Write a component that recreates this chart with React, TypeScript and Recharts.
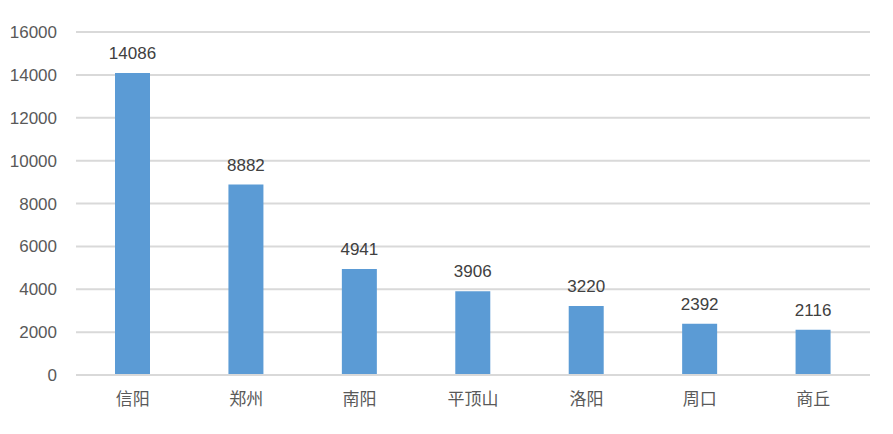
import React from "react";
import { BarChart, Bar, XAxis, YAxis, CartesianGrid, LabelList } from "recharts";

const categories = ["信阳", "郑州", "南阳", "平顶山", "洛阳", "周口", "商丘"];
const values = [14086, 8882, 4941, 3906, 3220, 2392, 2116];
const yTicks = [0, 2000, 4000, 6000, 8000, 10000, 12000, 14000, 16000];

const data = categories.map((name, i) => ({ name, value: values[i] }));

const font = "'Liberation Sans', 'Noto Sans CJK SC', sans-serif";

export default function App() {
  return (
    <div style={{ position: "absolute", left: 0, top: 0, width: 893, height: 434, background: "#fff" }}>
      <BarChart
        width={893}
        height={434}
        data={data}
        margin={{ top: 32, right: 23, bottom: 29, left: 10 }}
      >
        <CartesianGrid vertical={false} stroke="#d9d9d9" strokeWidth={2} />
        <XAxis
          dataKey="name"
          axisLine={{ stroke: "#d9d9d9", strokeWidth: 2 }}
          tickLine={false}
          tickSize={0}
          tickMargin={18}
          height={30}
          tick={{ fill: "#595959", fontSize: 17, fontFamily: "'Noto Sans CJK SC', sans-serif" }}
        />
        <YAxis
          width={66}
          domain={[0, 16000]}
          ticks={yTicks}
          axisLine={false}
          tickLine={false}
          tickSize={0}
          tickMargin={19}
          tick={{ fill: "#595959", fontSize: 17, fontFamily: font }}
        />
        <Bar dataKey="value" fill="#5b9bd5" barSize={35} isAnimationActive={false}>
          <LabelList
            dataKey="value"
            position="top"
            offset={14}
            fill="#404040"
            fontSize={17}
            fontFamily={font}
          />
        </Bar>
      </BarChart>
    </div>
  );
}
